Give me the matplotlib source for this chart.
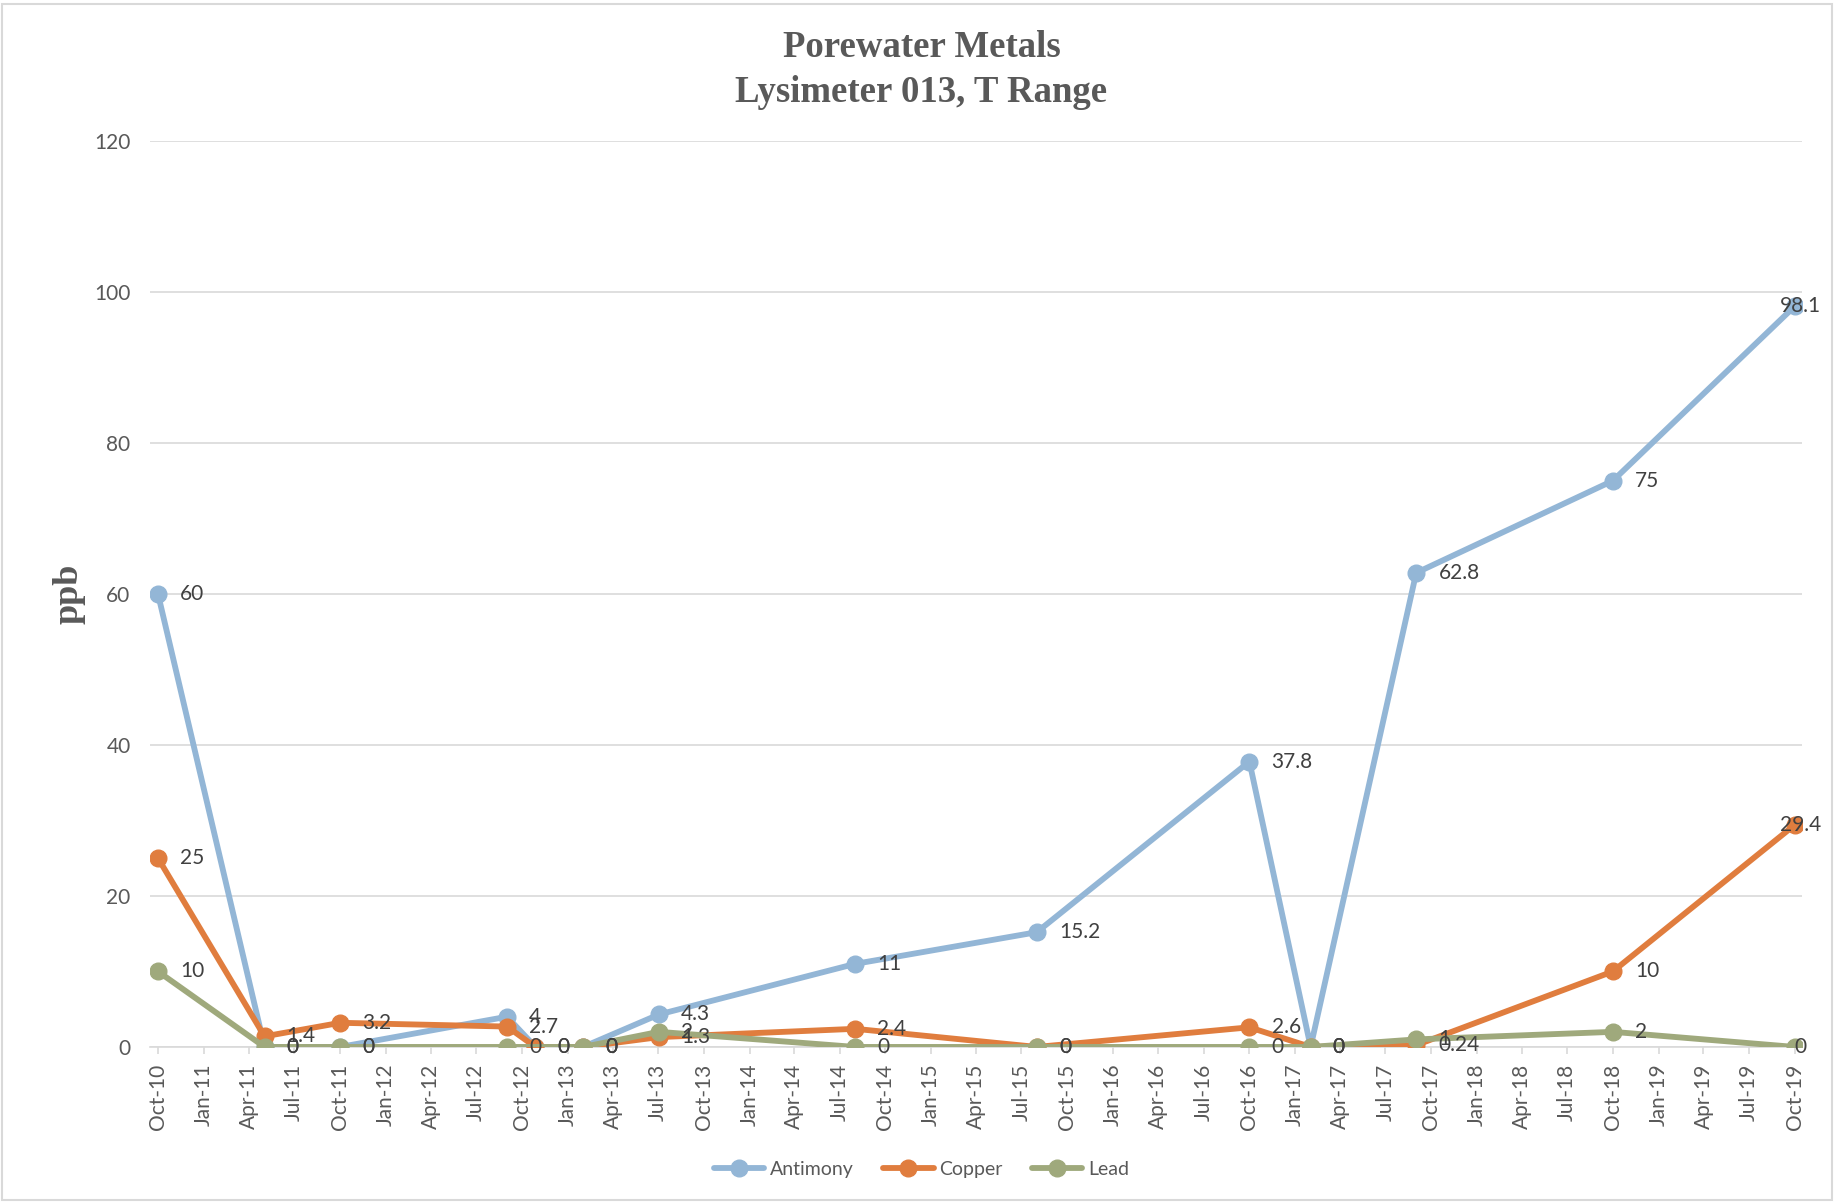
import numpy as np
import pandas as pd
import matplotlib
matplotlib.use("Agg")
import matplotlib.pyplot as plt
import matplotlib.dates as mdates
from matplotlib.patches import Rectangle

# sampling dates and results (ppb)
dates = ["2010-10-01", "2011-05-03", "2011-10-02", "2012-09-01", "2012-10-28",
         "2013-02-01", "2013-07-03", "2014-08-01", "2015-08-01", "2016-10-01",
         "2017-02-01", "2017-09-01", "2018-10-01", "2019-10-01"]
antimony = [60, 0, 0, 4, 0, 0, 4.3, 11, 15.2, 37.8, 0, 62.8, 75, 98.1]
copper = [25, 1.4, 3.2, 2.7, 0, 0, 1.3, 2.4, 0, 2.6, 0, 0.24, 10, 29.4]
lead = [10, 0, 0, 0, np.nan, 0, 2, 0, 0, 0, 0, 1, 2, 0]

series_names = ["Antimony", "Copper", "Lead"]
series_colors = ["#93B6D6", "#E07D3E", "#9FA97C"]

plt.rcParams["font.family"] = ["Lato", "DejaVu Sans"]

t = pd.to_datetime(dates)

fig = plt.figure(figsize=(18.43, 12.02), dpi=100)
ax = fig.add_axes([0.0814, 0.129, 0.8964, 0.7537])

label_color = "#404040"
for name, vals, col in zip(series_names, [antimony, copper, lead], series_colors):
    v = np.array(vals, dtype=float)
    ok = ~np.isnan(v)
    ax.plot(t[ok], v[ok], color=col, lw=4.2, marker="o", ms=12,
            solid_capstyle="round", label=name, zorder=3)
    for d, y in zip(t[ok], v[ok]):
        txt = "{:g}".format(y)
        if d == t[-1]:
            # last point: label sits over the marker
            ax.annotate(txt, (mdates.date2num(d), y), xytext=(4, 0),
                        textcoords="offset points", ha="center", va="center",
                        fontsize=15, color=label_color, zorder=5)
        else:
            ax.annotate(txt, (mdates.date2num(d), y), xytext=(16, 0),
                        textcoords="offset points", ha="left", va="center",
                        fontsize=15, color=label_color, zorder=5)

ax.set_ylim(0, 120)
ax.set_yticks(np.arange(0, 121, 20))
ax.set_xlim(mdates.date2num(pd.Timestamp("2010-10-01")) - 16,
            mdates.date2num(pd.Timestamp("2019-10-01")) + 15)
ax.xaxis.set_major_locator(mdates.MonthLocator(bymonth=[1, 4, 7, 10]))
ax.xaxis.set_major_formatter(mdates.DateFormatter("%b-%y"))
plt.setp(ax.get_xticklabels(), rotation=90)

ax.grid(axis="y", color="#D9D9D9", lw=1.2)
ax.set_axisbelow(True)
for s in ["top", "right", "left"]:
    ax.spines[s].set_visible(False)
ax.spines["bottom"].set_color("#D9D9D9")
ax.spines["bottom"].set_linewidth(1.2)
ax.tick_params(axis="y", length=0, pad=14, labelsize=15, labelcolor="#595959")
ax.tick_params(axis="x", length=5, width=1.2, color="#D9D9D9", pad=7,
               labelsize=15, labelcolor="#595959")

ax.set_ylabel("ppb", family="Liberation Serif", fontweight="bold",
              fontsize=26, color="#595959", labelpad=6)

fig.text(0.5, 1 - 70.0 / 1202, "Porewater Metals\nLysimeter 013, T Range",
         ha="center", va="center", family="Liberation Serif",
         fontweight="bold", fontsize=26.5, color="#595959", linespacing=1.35)

fig.legend(loc="center", bbox_to_anchor=(0.5, 0.027), ncol=3, frameon=False,
           fontsize=14, handlelength=2.6, columnspacing=1.5, handletextpad=0.3,
           labelcolor="#595959")

# chart border
fig.patches.append(Rectangle((2 / 1843, 2 / 1202), 1830 / 1843, 1196 / 1202,
                             transform=fig.transFigure, fill=False,
                             edgecolor="#D9D9D9", lw=1.5))

fig.savefig("out.png", dpi=100)
